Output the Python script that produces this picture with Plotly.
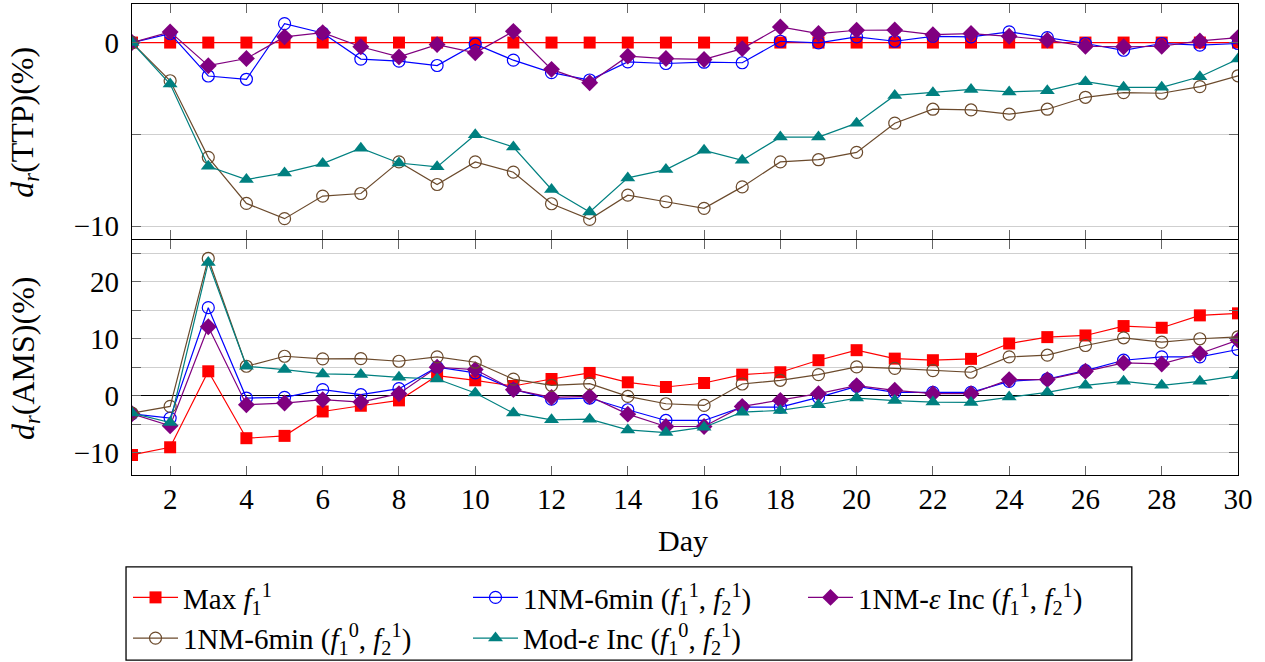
import plotly.graph_objects as go

days = list(range(1, 31))
day_ticks = list(range(2, 31, 2))

# d_r(TTP) (%)
ttp_max = [0, 0, 0, 0, 0, 0, 0, 0, 0, 0, 0, 0, 0, 0, 0,
           0, 0, 0, 0, 0, 0, 0, 0, 0, 0, 0, 0, 0, 0, 0]
ttp_6min_f11 = [0, 0.49, -1.82, -2.0, 1.03, 0.52, -0.9, -1.01, -1.25, -0.09,
                -0.96, -1.64, -2.04, -1.05, -1.14, -1.07, -1.1, 0.07, -0.02, 0.31,
                0.07, 0.34, 0.31, 0.58, 0.27, -0.05, -0.42, -0.05, -0.14, -0.05]
ttp_eps_f11 = [0, 0.58, -1.26, -0.87, 0.31, 0.54, -0.23, -0.78, -0.11, -0.56,
               0.61, -1.46, -2.19, -0.74, -0.87, -0.92, -0.33, 0.85, 0.49, 0.67,
               0.68, 0.43, 0.49, 0.34, 0.13, -0.2, -0.23, -0.2, 0.09, 0.27]
ttp_6min_f01 = [0, -2.08, -6.25, -8.76, -9.59, -8.36, -8.22, -6.5, -7.73, -6.5,
                -7.06, -8.78, -9.63, -8.31, -8.67, -9.03, -7.86, -6.5, -6.38, -5.98,
                -4.39, -3.63, -3.67, -3.9, -3.63, -2.98, -2.73, -2.76, -2.4, -1.81]
ttp_mod_f01 = [0, -2.26, -6.74, -7.46, -7.1, -6.59, -5.75, -6.56, -6.77, -5.02,
               -5.69, -8.0, -9.23, -7.37, -6.92, -5.87, -6.41, -5.15, -5.15, -4.39,
               -2.88, -2.73, -2.55, -2.69, -2.62, -2.13, -2.44, -2.44, -1.86, -0.9]

# d_r(AMS) (%)
ams_max = [-10.39, -9.04, 4.28, -7.45, -7.04, -2.76, -1.76, -0.82, 3.52, 2.7,
           1.7, 2.93, 3.99, 2.35, 1.53, 2.23, 3.7, 4.11, 6.22, 7.98,
           6.5, 6.22, 6.46, 9.15, 10.27, 10.56, 12.21, 11.91, 14.08, 14.44]
ams_6min_f11 = [-3.17, -3.93, 15.43, -0.41, -0.29, 1.06, 0.18, 1.23, 4.99, 3.99,
                1.1, -0.59, -0.41, -2.46, -4.34, -4.34, -2.0, -2.0, -0.29, 1.64,
                0.59, 0.59, 0.59, 2.52, 2.93, 4.4, 6.22, 6.81, 6.81, 8.1]
ams_eps_f11 = [-3.17, -5.28, 12.09, -1.58, -1.29, -0.7, -1.12, 0.35, 4.99, 4.58,
               1.06, -0.29, -0.12, -3.23, -5.4, -5.4, -1.88, -0.82, 0.35, 1.76,
               0.95, 0.35, 0.35, 2.82, 2.82, 4.28, 5.75, 5.57, 7.39, 9.74]
ams_6min_f01 = [-3.05, -1.88, 24.06, 5.16, 6.92, 6.46, 6.51, 6.04, 6.81, 5.87,
                2.9, 1.82, 2.11, -0.12, -1.41, -1.7, 2.05, 2.7, 3.7, 5.05,
                4.8, 4.4, 4.11, 6.81, 7.1, 8.8, 10.15, 9.39, 9.98, 10.33]
ams_mod_f01 = [-3.05, -4.69, 23.36, 5.16, 4.58, 3.81, 3.7, 3.23, 2.93, 0.47,
               -3.05, -4.23, -4.11, -5.99, -6.46, -5.52, -2.88, -2.58, -1.58, -0.41,
               -0.85, -1.12, -1.17, -0.23, 0.59, 1.82, 2.52, 1.82, 2.52, 3.52]

series = [
    dict(name="Max <i>f</i><sub>1</sub><sup>1</sup>", top=ttp_max, bot=ams_max,
         color="#ff0000", symbol="square", size=12, legend="legend"),
    dict(name="1NM-6min (<i>f</i><sub>1</sub><sup>1</sup>, <i>f</i><sub>2</sub><sup>1</sup>)",
         top=ttp_6min_f11, bot=ams_6min_f11,
         color="#0000ff", symbol="circle-open", size=12, legend="legend2"),
    dict(name="1NM-<i>ε</i> Inc (<i>f</i><sub>1</sub><sup>1</sup>, <i>f</i><sub>2</sub><sup>1</sup>)",
         top=ttp_eps_f11, bot=ams_eps_f11,
         color="#800080", symbol="diamond", size=13, legend="legend3"),
    dict(name="1NM-6min (<i>f</i><sub>1</sub><sup>0</sup>, <i>f</i><sub>2</sub><sup>1</sup>)",
         top=ttp_6min_f01, bot=ams_6min_f01,
         color="#6b4a2c", symbol="circle-open", size=12, legend="legend"),
    dict(name="Mod-<i>ε</i> Inc (<i>f</i><sub>1</sub><sup>0</sup>, <i>f</i><sub>2</sub><sup>1</sup>)",
         top=ttp_mod_f01, bot=ams_mod_f01,
         color="#008080", symbol="triangle-up", size=13, legend="legend2"),
]

fig = go.Figure()
for s in series:
    mk = dict(symbol=s["symbol"], size=s["size"], color=s["color"])
    if "open" in s["symbol"]:
        mk["line"] = dict(color=s["color"], width=1.2)
    fig.add_trace(go.Scatter(x=days, y=s["top"], mode="lines+markers", name=s["name"],
                             line=dict(color=s["color"], width=1.2), marker=mk,
                             xaxis="x", yaxis="y", legend=s["legend"], showlegend=True))
    fig.add_trace(go.Scatter(x=days, y=s["bot"], mode="lines+markers", name=s["name"],
                             line=dict(color=s["color"], width=1.2), marker=mk,
                             xaxis="x2", yaxis="y2", showlegend=False))

FONT = "'Liberation Serif', 'DejaVu Serif', serif"
axis_common = dict(showline=True, linecolor="black", linewidth=1.3, mirror="allticks",
                   ticks="inside", ticklen=9, tickcolor="#666666", tickwidth=1)
xcommon = dict(range=[1, 30], tickvals=day_ticks, showgrid=False, zeroline=False,
               **axis_common)
grid = "#cfcfcf"
ycommon = dict(dtick=10, tick0=0, showgrid=True, gridcolor=grid, gridwidth=1,
               zeroline=True, zerolinecolor="black", zerolinewidth=1.2,
               minor=dict(dtick=5, tick0=0, showgrid=True, gridcolor=grid, gridwidth=1,
                          ticks="inside", ticklen=9, tickcolor="#666666"),
               ticklabelstandoff=6, **axis_common)

legend_common = dict(font=dict(family=FONT, size=29, color="black"), bgcolor="rgba(0,0,0,0)",
                     borderwidth=0, yanchor="top", xanchor="left", itemwidth=45,
                     tracegroupgap=0, traceorder="normal")

fig.update_layout(
    width=1265, height=662,
    margin=dict(l=132, r=27, t=4, b=187, autoexpand=False),
    paper_bgcolor="white", plot_bgcolor="white",
    font=dict(family=FONT, size=29, color="black"),
    xaxis=dict(domain=[0, 1], anchor="y", showticklabels=False, **xcommon),
    xaxis2=dict(domain=[0, 1], anchor="y2", matches="x", showticklabels=True,
                ticklabelstandoff=-2, **xcommon),
    yaxis=dict(domain=[0.501, 1], range=[-10.7, 2.1], anchor="x", **ycommon),
    yaxis2=dict(domain=[0, 0.499], range=[-13.9, 27.3], anchor="x2", **ycommon),
    legend=dict(x=-0.0036, y=-0.206, **legend_common),
    legend2=dict(x=0.3038, y=-0.206, **legend_common),
    legend3=dict(x=0.6067, y=-0.206, **legend_common),
    shapes=[dict(type="rect", xref="paper", yref="paper", x0=-0.0054, x1=0.904,
                 y0=-0.393, y1=-0.195, line=dict(color="black", width=1.3))],
    annotations=[
        dict(text="<i>d</i><sub><i>r</i></sub>(TTP)(%)", xref="paper", yref="paper",
             x=-0.097, y=0.7495, textangle=-90, showarrow=False,
             xanchor="center", yanchor="middle", font=dict(family=FONT, size=32)),
        dict(text="<i>d</i><sub><i>r</i></sub>(AMS)(%)", xref="paper", yref="paper",
             x=-0.097, y=0.248, textangle=-90, showarrow=False,
             xanchor="center", yanchor="middle", font=dict(family=FONT, size=32)),
        dict(text="Day", xref="paper", yref="paper", x=0.498, y=-0.140,
             showarrow=False, xanchor="center", yanchor="middle",
             font=dict(family=FONT, size=30)),
    ],
)

fig.write_html("out.html")
